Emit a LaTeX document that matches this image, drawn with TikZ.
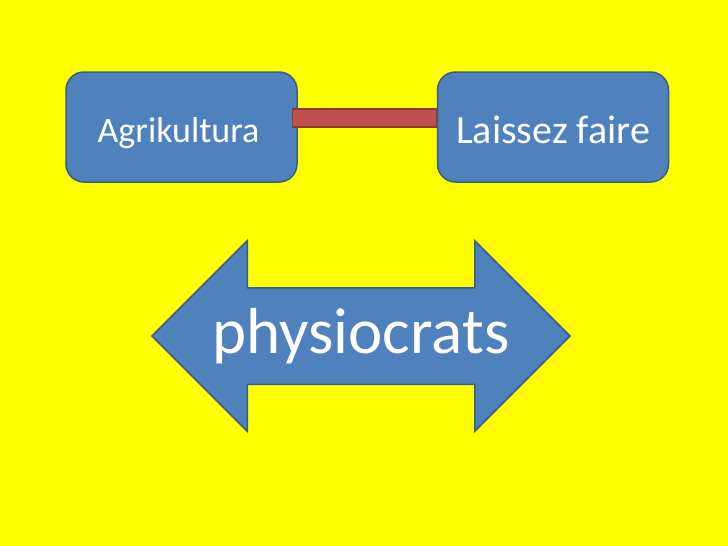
\documentclass[tikz,border=0pt]{standalone}
\usepackage{fontspec}
\setmainfont{Carlito}
\usepackage{xcolor}
\usepackage{tikz}
\usetikzlibrary{positioning, shapes.arrows}
\definecolor{bgyellow}{HTML}{FFFF00}
\definecolor{boxblue}{HTML}{4F81BD}
\definecolor{boxline}{HTML}{385D8A}
\definecolor{barred}{HTML}{C0504D}
\definecolor{barline}{HTML}{8C3836}
\tikzset{
	topic/.style={draw=boxline, line width=1.5pt, fill=boxblue, rounded corners=18pt,
		minimum width=231pt, minimum height=110pt, text=white, inner sep=0pt},
	link/.style={draw=barline, line width=1.2pt, fill=barred},
	bigarrow/.style={double arrow, draw=boxline, line width=1.5pt, fill=boxblue, text=white,
		minimum height=418pt, minimum width=189pt, inner xsep=0pt, inner ysep=47.5pt,
		double arrow head extend=47pt, double arrow tip angle=90}
}

\begin{document}
\begin{tikzpicture}[x=1pt, y=-1pt, node distance=139pt]
		\fill[bgyellow] (0,0) rectangle (728,546);
		\useasboundingbox (0,0) rectangle (728,546);
		
		\node[topic] (agri) at (181.5,127) {\fontsize{36}{40}\selectfont\hspace{-6pt}\raisebox{-15pt}[0pt][0pt]{Agrikultura}};
		\node[topic, right = of agri] (lf) {\fontsize{40}{44}\selectfont\raisebox{-16pt}[0pt][0pt]{Laissez faire}};
		\node[bigarrow] (phys) at (361,336) {\fontsize{65}{72}\selectfont\raisebox{-17pt}[0pt][0pt]{physiocrats}};
		
		\draw[link] ([xshift=-5pt]agri.east) rectangle ([yshift=18pt]lf.west);
		
		\end{tikzpicture}
\end{document}
